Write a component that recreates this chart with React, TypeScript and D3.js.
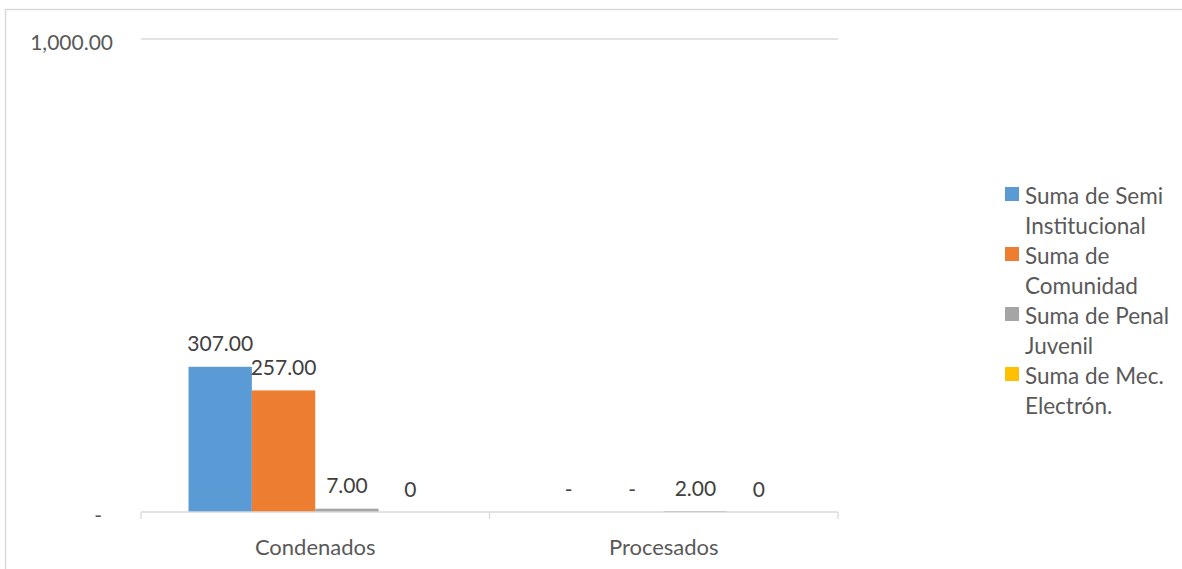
import React from "react";
import * as d3 from "d3";

const categories = ["Condenados", "Procesados"];
const seriesNames = [
  "Suma de Semi Institucional",
  "Suma de Comunidad",
  "Suma de Penal Juvenil",
  "Suma de Mec. Electrón.",
];
const legendLines = [
  ["Suma de Semi", "Institucional"],
  ["Suma de", "Comunidad"],
  ["Suma de Penal", "Juvenil"],
  ["Suma de Mec.", "Electrón."],
];
const seriesColors = ["#5B9BD5", "#ED7D31", "#A5A5A5", "#FFC000"];
// values per series, indexed by category
const semiInstitucional = [307, 0];
const comunidad = [257, 0];
const penalJuvenil = [7, 2];
const mecElectron = [0, 0];
const seriesValues = [semiInstitucional, comunidad, penalJuvenil, mecElectron];
const seriesFormat = ["accounting", "accounting", "accounting", "general"];
const yTicks = [0, 1000];

const W = 1182;
const H = 569;
const FONT = "Lato, 'Open Sans', sans-serif";

function fmtAccounting(v: number) {
  return v === 0 ? "-" : d3.format(",.2f")(v);
}
function fmtLabel(v: number, kind: string) {
  return kind === "accounting" ? fmtAccounting(v) : String(v);
}

export default function App() {
  const plotLeft = 141;
  const plotRight = 838;
  const plotTop = 39;
  const plotBottom = 512;

  const x0 = d3.scaleBand<string>().domain(categories).range([plotLeft, plotRight]).padding(0);
  const x1 = d3
    .scaleBand<number>()
    .domain(d3.range(seriesNames.length))
    .range([0, x0.bandwidth()])
    .paddingInner(0)
    .paddingOuter(0.75);
  const y = d3.scaleLinear().domain([0, 1000]).range([plotBottom, plotTop]);

  const tickXs = [plotLeft, ...categories.map((c) => (x0(c) as number) + x0.bandwidth())];

  return (
    <svg width={W} height={H} style={{ display: "block", position: "absolute", left: 0, top: 0 }}>
      <rect x={0} y={0} width={W} height={H} fill="#ffffff" />
      {/* chart frame */}
      <rect x={5.5} y={9.5} width={W + 20} height={H + 20} fill="none" stroke="#d9d9d9" strokeWidth={1.5} />

      {/* gridline at top */}
      {yTicks
        .filter((t) => t !== 0)
        .map((t) => (
          <line key={t} x1={plotLeft} x2={plotRight} y1={y(t)} y2={y(t)} stroke="#d9d9d9" strokeWidth={1.3} />
        ))}

      {/* y tick labels */}
      {yTicks.map((t) => (
        <text
          key={"yl" + t}
          x={t === 0 ? 102 : 113}
          y={y(t) + 2}
          textAnchor="end"
          dominantBaseline="central"
          fontFamily={FONT}
          fontSize={21}
          fill="#595959"
        >
          {fmtAccounting(t)}
        </text>
      ))}

      {/* bars */}
      {categories.map((c, ci) => (
        <g key={c} transform={`translate(${x0(c)},0)`}>
          {seriesValues.map((vals, si) => {
            const v = vals[ci];
            const bx = x1(si) as number;
            return (
              <rect
                key={si}
                x={bx}
                y={y(v)}
                width={x1.bandwidth()}
                height={plotBottom - y(v)}
                fill={seriesColors[si]}
              />
            );
          })}
          {seriesValues.map((vals, si) => {
            const v = vals[ci];
            const bx = (x1(si) as number) + x1.bandwidth() / 2;
            return (
              <text
                key={"l" + si}
                x={bx}
                y={y(v) - 24}
                textAnchor="middle"
                dominantBaseline="central"
                fontFamily={FONT}
                fontSize={21}
                fill="#404040"
              >
                {fmtLabel(v, seriesFormat[si])}
              </text>
            );
          })}
        </g>
      ))}

      {/* x axis line */}
      <line x1={plotLeft} x2={plotRight} y1={plotBottom} y2={plotBottom} stroke="#d9d9d9" strokeWidth={1.3} />
      {tickXs.map((tx, i) => (
        <line key={"t" + i} x1={tx} x2={tx} y1={plotBottom} y2={plotBottom + 7} stroke="#d9d9d9" strokeWidth={1.3} />
      ))}
      {categories.map((c) => (
        <text
          key={"c" + c}
          x={(x0(c) as number) + x0.bandwidth() / 2}
          y={546}
          textAnchor="middle"
          dominantBaseline="central"
          fontFamily={FONT}
          fontSize={22}
          fill="#595959"
        >
          {c}
        </text>
      ))}

      {/* legend */}
      {legendLines.map((lines, i) => {
        const cy = 195 + i * 60;
        return (
          <g key={"lg" + i}>
            <rect x={1005} y={cy - 8} width={14} height={14} fill={seriesColors[i]} />
            {lines.map((ln, j) => (
              <text
                key={j}
                x={1025}
                y={cy + j * 30}
                dominantBaseline="central"
                fontFamily={FONT}
                fontSize={22.5}
                fill="#595959"
              >
                {ln}
              </text>
            ))}
          </g>
        );
      })}
    </svg>
  );
}
